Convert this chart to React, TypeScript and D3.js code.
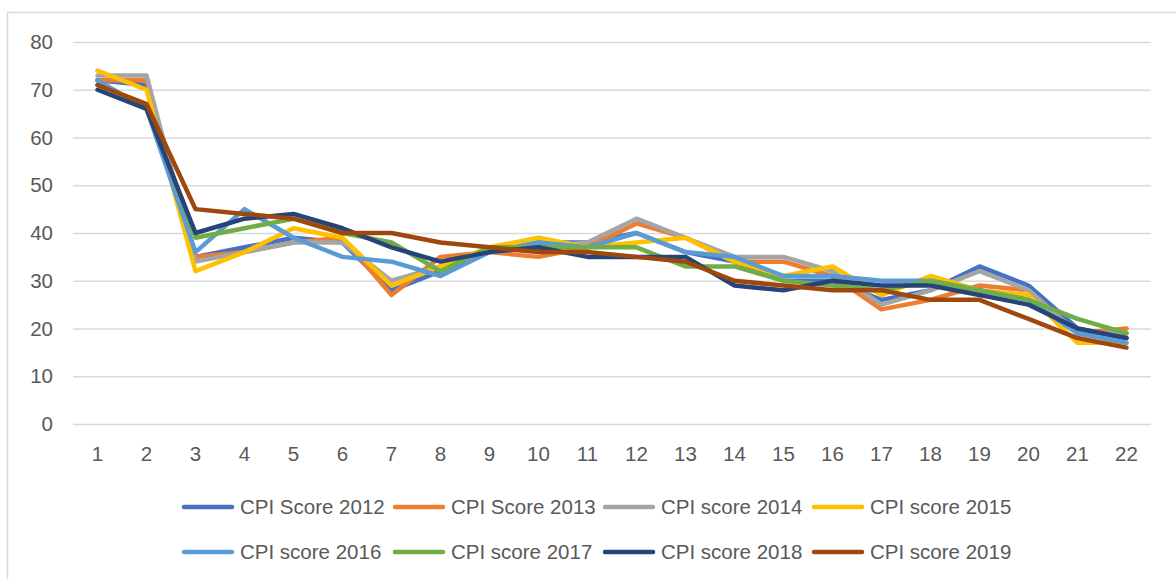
import React, { useEffect, useRef } from 'react';
import * as d3 from 'd3';

const categories = ['1', '2', '3', '4', '5', '6', '7', '8', '9', '10', '11', '12', '13', '14', '15', '16', '17', '18', '19', '20', '21', '22'];
const yTicks = [0, 10, 20, 30, 40, 50, 60, 70, 80];

const score2012 = [72, 71, 35, 37, 39, 38, 28, 32, 36, 38, 38, 40, 36, 34, 30, 30, 26, 28, 33, 29, 20, 18];
const score2013 = [72, 72, 35, 36, 38, 39, 27, 35, 36, 35, 37, 42, 39, 34, 34, 31, 24, 26, 29, 28, 19, 20];
const score2014 = [73, 73, 34, 36, 38, 38, 30, 33, 36, 37, 38, 43, 39, 35, 35, 32, 25, 28, 32, 28, 19, 19];
const score2015 = [74, 70, 32, 36, 41, 39, 29, 33, 37, 39, 37, 38, 39, 34, 31, 33, 27, 31, 28, 27, 17, 17];
const score2016 = [72, 66, 36, 45, 39, 35, 34, 31, 36, 38, 37, 40, 36, 35, 31, 31, 30, 30, 28, 26, 19, 17];
const score2017 = [71, 67, 39, 41, 43, 40, 38, 32, 37, 37, 37, 37, 33, 33, 30, 29, 28, 30, 28, 26, 22, 19];
const score2018 = [70, 66, 40, 43, 44, 41, 37, 34, 36, 37, 35, 35, 35, 29, 28, 30, 29, 29, 27, 25, 20, 18];
const score2019 = [71, 67, 45, 44, 43, 40, 40, 38, 37, 36, 36, 35, 34, 30, 29, 28, 28, 26, 26, 22, 18, 16];

const seriesNames = ['CPI Score 2012', 'CPI Score 2013', 'CPI score 2014', 'CPI score 2015', 'CPI score 2016', 'CPI score 2017', 'CPI score 2018', 'CPI score 2019'];
const seriesColors = ['#4472C4', '#ED7D31', '#A5A5A5', '#FFC000', '#5B9BD5', '#70AD47', '#264478', '#9E480E'];
const seriesValues = [score2012, score2013, score2014, score2015, score2016, score2017, score2018, score2019];

const App: React.FC = () => {
  const svgRef = useRef<SVGSVGElement>(null);

  useEffect(() => {
    if (!svgRef.current) return;
    const width = 1176;
    const height = 579;
    const plot = { left: 73, right: 1151, top: 42, bottom: 424 };
    const font = '"Liberation Sans", Arial, sans-serif';
    const fontSize = '20.5px';
    const textColor = '#595959';

    const svg = d3.select(svgRef.current);
    svg.selectAll('*').remove();

    svg.append('rect')
      .attr('width', width)
      .attr('height', height)
      .attr('fill', '#ffffff');

    // chart frame, cut off at the right and bottom
    svg.append('rect')
      .attr('x', 7.5)
      .attr('y', 12.5)
      .attr('width', width + 20)
      .attr('height', height + 20)
      .attr('fill', 'none')
      .attr('stroke', '#d9d9d9')
      .attr('stroke-width', 1.5);

    const xScale = d3.scaleBand()
      .domain(categories)
      .range([plot.left, plot.right]);

    const yScale = d3.scaleLinear()
      .domain([0, 80])
      .range([plot.bottom, plot.top]);

    // Grid
    svg.append('g')
      .attr('transform', `translate(${plot.left},0)`)
      .call(d3.axisRight(yScale).tickValues(yTicks).tickSize(plot.right - plot.left).tickFormat(() => ''))
      .call(g => g.select('.domain').remove())
      .call(g => g.selectAll('line').attr('stroke', '#d9d9d9').attr('stroke-width', 1.5));

    // Y labels
    const yAxisG = svg.append('g')
      .attr('transform', `translate(${plot.left - 20},0)`)
      .call(d3.axisLeft(yScale).tickValues(yTicks).tickSize(0).tickPadding(0));
    yAxisG.select('.domain').remove();
    yAxisG.selectAll('text')
      .attr('fill', textColor)
      .attr('font-size', fontSize)
      .attr('font-family', font);

    // X labels
    const xAxisG = svg.append('g')
      .attr('transform', `translate(0,${plot.bottom})`)
      .call(d3.axisBottom(xScale).tickSize(0).tickPadding(22));
    xAxisG.select('.domain').remove();
    xAxisG.selectAll('text')
      .attr('fill', textColor)
      .attr('font-size', fontSize)
      .attr('font-family', font);

    const line = d3.line<number>()
      .x((_, i) => (xScale(categories[i]) || 0) + xScale.bandwidth() / 2)
      .y(d => yScale(d));

    svg.append('g')
      .selectAll('path')
      .data(seriesValues)
      .enter()
      .append('path')
      .attr('d', d => line(d))
      .attr('fill', 'none')
      .attr('stroke', (_, i) => seriesColors[i])
      .attr('stroke-width', 4.5)
      .attr('stroke-linejoin', 'round')
      .attr('stroke-linecap', 'round');

    // Legend: two rows of four
    const legendX = [182, 393, 603, 812];
    const legendY = [507, 552];
    const legend = svg.append('g')
      .selectAll('g')
      .data(seriesNames)
      .enter()
      .append('g')
      .attr('transform', (_, i) => `translate(${legendX[i % 4]},${legendY[Math.floor(i / 4)]})`);

    legend.append('line')
      .attr('x1', 2)
      .attr('x2', 50)
      .attr('stroke', (_, i) => seriesColors[i])
      .attr('stroke-width', 4.5)
      .attr('stroke-linecap', 'round');

    legend.append('text')
      .attr('x', 58)
      .attr('dy', '0.35em')
      .attr('fill', textColor)
      .attr('font-size', fontSize)
      .attr('font-family', font)
      .text(d => d);
  }, []);

  return (
    <div style={{ position: 'absolute', left: 0, top: 0, width: 1176, height: 579, overflow: 'hidden' }}>
      <svg ref={svgRef} width={1176} height={579} style={{ display: 'block' }} />
    </div>
  );
};

export default App;
